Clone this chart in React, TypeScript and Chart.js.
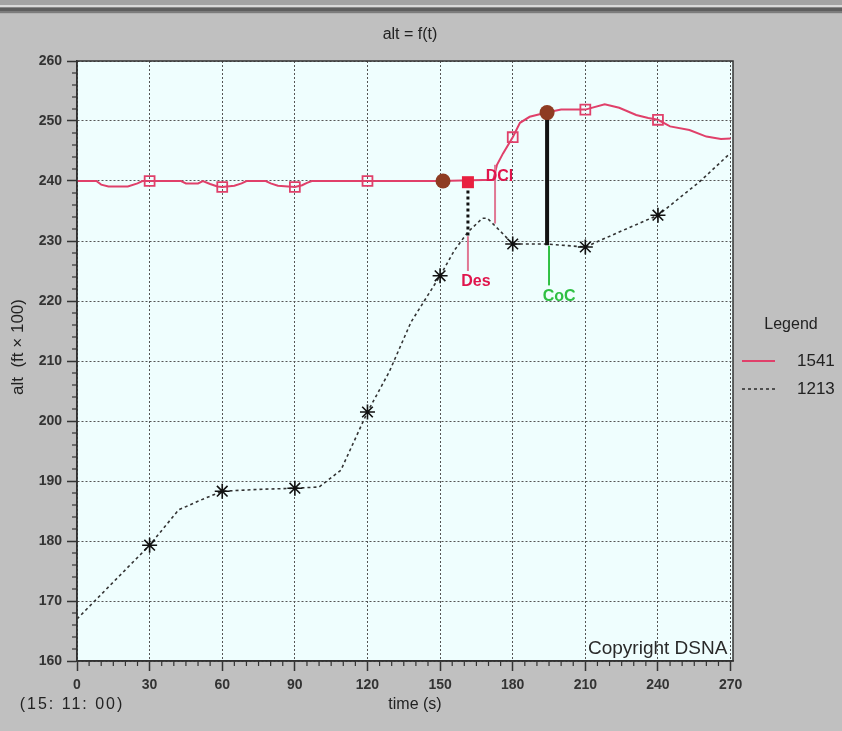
import React, { useEffect, useRef } from "react";
import { Chart, registerables } from "chart.js";

Chart.register(...registerables);

// ---- data ----
const X_TICKS = [0, 30, 60, 90, 120, 150, 180, 210, 240, 270];
const Y_TICKS = [160, 170, 180, 190, 200, 210, 220, 230, 240, 250, 260];

const SERIES_NAMES = ["1541", "1213"];

const T_1541 = [0, 8, 10, 13, 21, 25, 27, 30, 43, 45, 50, 52, 55, 58, 60, 65, 68, 70, 78, 80, 83, 90, 93, 95, 97, 120, 150, 172, 173.5, 176, 180, 183, 187, 194, 200, 210, 218, 224, 231, 236, 240, 245, 253, 260, 266, 270];
const ALT_1541 = [240, 240, 239.4, 239.1, 239.1, 239.6, 240, 240, 240, 239.6, 239.6, 240, 239.5, 239.1, 239.0, 239.2, 239.6, 240, 240, 239.6, 239.2, 239.0, 239.3, 239.7, 240, 240, 240, 240.2, 242.7, 244.6, 247.3, 249.7, 250.7, 251.4, 251.9, 251.9, 252.8, 252.2, 251.0, 250.5, 250.2, 249.1, 248.5, 247.4, 247.0, 247.1];
const MARKS_1541 = [30, 60, 90, 120, 180, 210, 240];

const T_1213 = [0, 30, 42, 51, 60, 75, 90, 100, 109, 120, 129, 138, 150, 156, 161.5, 167.5, 169.5, 174.5, 180, 194, 210, 224, 240, 257, 269];
const ALT_1213 = [167, 179.3, 185.2, 186.8, 188.3, 188.6, 188.8, 189.0, 191.8, 201.5, 208.2, 216.5, 224.2, 228.5, 231.5, 233.8, 233.8, 231.8, 229.5, 229.5, 229.0, 231.5, 234.3, 239.8, 244.3];
const MARKS_1213 = [30, 60, 90, 120, 150, 180, 210, 240];

// event annotations
const EVENT_NAMES = ["DCl", "Des", "CoC"];
const EVENT_LABEL_T = [174.5, 164.8, 199.2];
const EVENT_LABEL_ALT = [240.8, 223.3, 220.7];
const EVENT_STEM_T = [172.7, 161.5, 195.0];
const EVENT_STEM_FROM = [232.9, 230.8, 229.2];
const EVENT_STEM_TO = [242.7, 225.0, 222.6];
// separation lines (Des dotted, CoC solid)
const SEP_T = [161.5, 194.2];
const SEP_FROM = [239.4, 251.3];
const SEP_TO = [230.8, 229.3];
// special points
const DOT_T = [151.2, 194.2];
const DOT_ALT = [240.0, 251.4];
const SQUARE_T = [161.5];
const SQUARE_ALT = [239.8];

const FONT = "'Liberation Sans', Arial, Helvetica, sans-serif";
const RED = "#e0406a";
const PINK = "#e07894";
const LABEL_RED = "#e0154c";
const GREEN = "#2fc043";
const BROWN = "#8e3c22";
const BG = "#c0c0c0";
const PLOT_BG = "#effefe";

const toXY = (ts: number[], vs: number[]) => ts.map((t, i) => ({ x: t, y: vs[i] }));

const decorPlugin = {
  id: "decor",
  beforeDraw(chart: any) {
    const { ctx, width, height, chartArea } = chart;
    ctx.save();
    ctx.fillStyle = BG;
    ctx.fillRect(0, 0, width, height);
    // window frame band at top
    ctx.fillStyle = "#a4a4a4";
    ctx.fillRect(0, 0, width, 5);
    ctx.fillStyle = "#dadada";
    ctx.fillRect(0, 5, width, 2);
    ctx.fillStyle = "#8a8a8a";
    ctx.fillRect(0, 7, width, 1);
    ctx.fillStyle = "#5e5e5e";
    ctx.fillRect(0, 8, width, 3);
    ctx.fillStyle = "#7c7c7c";
    ctx.fillRect(0, 11, width, 2);
    ctx.fillStyle = "#b2b2b2";
    ctx.fillRect(0, 13, width, 1);
    ctx.fillStyle = PLOT_BG;
    ctx.fillRect(chartArea.left, chartArea.top, chartArea.right - chartArea.left, chartArea.bottom - chartArea.top);
    ctx.restore();
  },
  afterDatasetsDraw(chart: any) {
    const { ctx } = chart;
    const xs = chart.scales.x;
    const ys = chart.scales.y;
    const px = (t: number) => xs.getPixelForValue(t);
    const py = (a: number) => ys.getPixelForValue(a);
    ctx.save();
    // Des dotted separation
    ctx.strokeStyle = "#111";
    ctx.lineWidth = 3;
    ctx.setLineDash([3, 3]);
    ctx.beginPath();
    ctx.moveTo(px(SEP_T[0]), py(SEP_FROM[0]));
    ctx.lineTo(px(SEP_T[0]), py(SEP_TO[0]));
    ctx.stroke();
    // CoC solid separation
    ctx.setLineDash([]);
    ctx.lineWidth = 4;
    ctx.beginPath();
    ctx.moveTo(px(SEP_T[1]), py(SEP_FROM[1]));
    ctx.lineTo(px(SEP_T[1]), py(SEP_TO[1]));
    ctx.stroke();
    // event stems
    const stemColors = [PINK, PINK, GREEN];
    EVENT_NAMES.forEach((_, i) => {
      ctx.strokeStyle = stemColors[i];
      ctx.lineWidth = 2;
      ctx.beginPath();
      ctx.moveTo(px(EVENT_STEM_T[i]), py(EVENT_STEM_FROM[i]));
      ctx.lineTo(px(EVENT_STEM_T[i]), py(EVENT_STEM_TO[i]));
      ctx.stroke();
    });
    // brown dots
    ctx.fillStyle = BROWN;
    DOT_T.forEach((t, i) => {
      ctx.beginPath();
      ctx.arc(px(t), py(DOT_ALT[i]), 7.5, 0, Math.PI * 2);
      ctx.fill();
    });
    // red filled square
    ctx.fillStyle = "#e8203f";
    SQUARE_T.forEach((t, i) => {
      ctx.fillRect(px(t) - 6, py(SQUARE_ALT[i]) - 6, 12, 12);
    });
    // event labels
    const labelColors = [LABEL_RED, LABEL_RED, GREEN];
    ctx.font = `bold 16px ${FONT}`;
    ctx.textAlign = "center";
    ctx.textBaseline = "middle";
    EVENT_NAMES.forEach((name, i) => {
      ctx.fillStyle = labelColors[i];
      ctx.fillText(name, px(EVENT_LABEL_T[i]), py(EVENT_LABEL_ALT[i]));
    });
    ctx.restore();
  },
  afterDraw(chart: any) {
    const { ctx, chartArea } = chart;
    const xs = chart.scales.x;
    const ys = chart.scales.y;
    const { left, right, top, bottom } = chartArea;
    ctx.save();
    // frame
    ctx.strokeStyle = "#333";
    ctx.lineWidth = 1.5;
    ctx.strokeRect(left, top, right - left, bottom - top);
    // minor ticks
    ctx.lineWidth = 1.2;
    ctx.strokeStyle = "#333";
    for (let t = 0; t <= 270; t += 5) {
      if (t % 30 === 0) continue;
      const x = xs.getPixelForValue(t);
      ctx.beginPath();
      ctx.moveTo(x, bottom);
      ctx.lineTo(x, bottom + 5);
      ctx.stroke();
    }
    for (let a = 160; a <= 260; a += 2) {
      if (a % 10 === 0) continue;
      const y = ys.getPixelForValue(a);
      ctx.beginPath();
      ctx.moveTo(left - 5, y);
      ctx.lineTo(left, y);
      ctx.stroke();
    }
    // title
    ctx.fillStyle = "#222";
    ctx.textAlign = "center";
    ctx.textBaseline = "middle";
    ctx.font = `16px ${FONT}`;
    ctx.fillText("alt = f(t)", 410, 35);
    // x-axis titles
    ctx.font = `16px ${FONT}`;
    ctx.fillText("time (s)", 415, 705);
    ctx.save();
    (ctx as any).letterSpacing = "2px";
    ctx.font = `16px ${FONT}`;
    ctx.fillText("(15: 11: 00)", 72, 705);
    ctx.restore();
    // y-axis title
    ctx.save();
    ctx.translate(18, 347);
    ctx.rotate(-Math.PI / 2);
    ctx.font = `17px ${FONT}`;
    ctx.fillStyle = "#222";
    ctx.textAlign = "center";
    ctx.textBaseline = "middle";
    ctx.fillText("alt  (ft \u00d7 100)", 0, 0);
    ctx.restore();
    // copyright
    ctx.font = `19px ${FONT}`;
    ctx.textAlign = "left";
    ctx.fillStyle = "#2a2a2a";
    ctx.fillText("Copyright DSNA", 588, 649);
    // legend
    ctx.textAlign = "center";
    ctx.font = `16px ${FONT}`;
    ctx.fillStyle = "#222";
    ctx.fillText("Legend", 791, 325);
    const ds = chart.data.datasets;
    const rows = [361, 389];
    ds.forEach((d: any, i: number) => {
      ctx.save();
      ctx.strokeStyle = d.borderColor;
      ctx.lineWidth = d.borderWidth;
      ctx.setLineDash(d.borderDash || []);
      ctx.beginPath();
      ctx.moveTo(742, rows[i]);
      ctx.lineTo(775, rows[i]);
      ctx.stroke();
      ctx.restore();
      ctx.textAlign = "left";
      ctx.font = `17px ${FONT}`;
      ctx.fillStyle = "#222";
      ctx.fillText(d.label, 797, rows[i]);
    });
    ctx.restore();
  },
};

export default function App() {
  const ref = useRef<HTMLCanvasElement | null>(null);
  useEffect(() => {
    if (!ref.current) return;
    const chart = new Chart(ref.current, {
      type: "line",
      data: {
        datasets: [
          {
            label: SERIES_NAMES[0],
            data: toXY(T_1541, ALT_1541),
            borderColor: RED,
            borderWidth: 2,
            tension: 0,
            pointStyle: "rect",
            pointRadius: (c: any) => (MARKS_1541.includes(c.raw?.x) ? 7 : 0),
            pointBorderColor: RED,
            pointBackgroundColor: "rgba(0,0,0,0)",
            pointBorderWidth: 1.8,
          },
          {
            label: SERIES_NAMES[1],
            data: toXY(T_1213, ALT_1213),
            borderColor: "#333",
            borderWidth: 1.6,
            borderDash: [3, 3],
            tension: 0,
            pointStyle: "star",
            pointRadius: (c: any) => (MARKS_1213.includes(c.raw?.x) ? 7.5 : 0),
            pointBorderColor: "#111",
            pointBackgroundColor: "#111",
            pointBorderWidth: 1.6,
          },
        ] as any,
      },
      options: {
        animation: false,
        responsive: false,
        maintainAspectRatio: false,
        layout: { padding: { left: 0, right: 109, top: 61, bottom: 0 } },
        plugins: {
          legend: { display: false },
          title: { display: false },
          tooltip: { enabled: false },
        },
        scales: {
          x: {
            type: "linear",
            min: 0,
            max: 271,
            afterBuildTicks: (a: any) => {
              a.ticks = X_TICKS.map((v) => ({ value: v }));
            },
            afterFit: (s: any) => {
              s.height = 70;
            },
            grid: {
              color: "#555",
              lineWidth: 1,
              tickLength: 10,
              tickColor: "#333",
              tickWidth: 1.5,
            },
            border: { display: true, color: "#333", width: 1.5, dash: [2, 2] },
            ticks: {
              autoSkip: false,
              maxRotation: 0,
              padding: 6,
              color: "#333",
              font: { family: FONT, size: 14, weight: "bold" },
            },
          },
          y: {
            type: "linear",
            min: 160,
            max: 260,
            afterBuildTicks: (a: any) => {
              a.ticks = Y_TICKS.map((v) => ({ value: v }));
            },
            afterFit: (s: any) => {
              s.width = 77;
            },
            grid: {
              color: "#555",
              lineWidth: 1,
              tickLength: 10,
              tickColor: "#333",
              tickWidth: 1.5,
            },
            border: { display: true, color: "#333", width: 1.5, dash: [2, 2] },
            ticks: {
              autoSkip: false,
              padding: 5,
              color: "#333",
              font: { family: FONT, size: 14, weight: "bold" },
            },
          },
        },
      } as any,
      plugins: [decorPlugin],
    });
    return () => chart.destroy();
  }, []);
  return (
    <div style={{ position: "fixed", left: 0, top: 0, width: 842, height: 731, background: BG }}>
      <canvas ref={ref} width={842} height={731} style={{ display: "block", width: 842, height: 731 }} />
    </div>
  );
}
